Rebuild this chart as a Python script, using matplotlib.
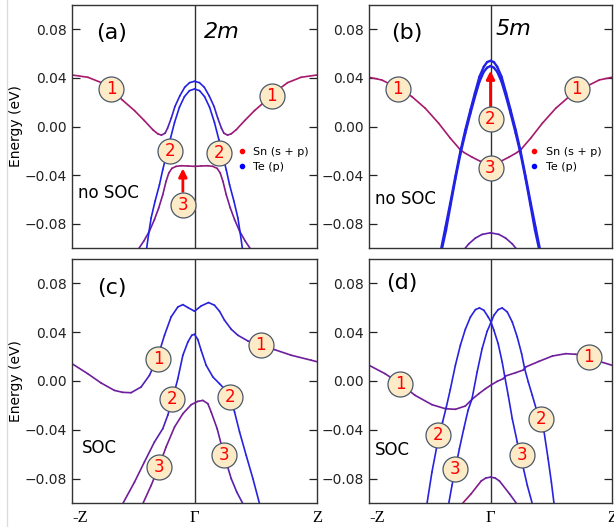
import numpy as np
import matplotlib
matplotlib.use('Agg')
import matplotlib.pyplot as plt
from matplotlib.collections import LineCollection
from matplotlib.colors import LinearSegmentedColormap
from matplotlib.lines import Line2D

# ---- panel (a): 2m, no SOC ----
a1_k = [-1.00, -0.87, -0.76, -0.68, -0.59, -0.49, -0.41, -0.34, -0.30, -0.27, -0.24, -0.22, -0.19, -0.16, -0.12, -0.08, -0.04, 0.00,
        0.04, 0.08, 0.12, 0.16, 0.19, 0.22, 0.24, 0.27, 0.30, 0.34, 0.41, 0.49, 0.59, 0.68, 0.76, 0.87, 1.00]
a1_e = [0.0424, 0.0405, 0.0361, 0.0301, 0.0219, 0.0131, 0.0049, -0.0027, -0.0060, -0.0071, -0.0055, -0.0014, 0.0068, 0.0164, 0.0252, 0.0323, 0.0361, 0.0372,
        0.0361, 0.0323, 0.0252, 0.0164, 0.0068, -0.0014, -0.0055, -0.0071, -0.0060, -0.0027, 0.0049, 0.0131, 0.0219, 0.0301, 0.0361, 0.0405, 0.0424]
a1_w = [1, 1, 1, 1, 1, 1, 0.95, 0.9, 0.85, 0.75, 0.55, 0.35, 0.2, 0.1, 0.05, 0, 0, 0,
        0, 0, 0.05, 0.1, 0.2, 0.35, 0.55, 0.75, 0.85, 0.9, 0.95, 1, 1, 1, 1, 1, 1]
a2_k = [-0.390, -0.373, -0.354, -0.322, -0.286, -0.259, -0.232, -0.199, -0.163, -0.123, -0.082, -0.041, 0.0,
        0.041, 0.082, 0.123, 0.163, 0.199, 0.232, 0.259, 0.286, 0.322, 0.354, 0.373, 0.390]
a2_e = [-0.0998, -0.0875, -0.0752, -0.0615, -0.0479, -0.0355, -0.0246, -0.0109, 0.0033, 0.0159, 0.0246, 0.0295, 0.0309,
        0.0295, 0.0246, 0.0159, 0.0033, -0.0109, -0.0246, -0.0355, -0.0479, -0.0615, -0.0752, -0.0875, -0.0998]
a3_k = [-0.463, -0.414, -0.368, -0.327, -0.292, -0.259, -0.232, -0.210, -0.185, -0.150, -0.109, -0.054, 0.0,
        0.054, 0.109, 0.150, 0.185, 0.210, 0.232, 0.259, 0.292, 0.327, 0.368, 0.414, 0.463]
a3_e = [-0.1017, -0.0943, -0.0861, -0.0766, -0.0670, -0.0561, -0.0451, -0.0383, -0.0345, -0.0328, -0.0323, -0.0325, -0.0328,
        -0.0325, -0.0323, -0.0328, -0.0345, -0.0383, -0.0451, -0.0561, -0.0670, -0.0766, -0.0861, -0.0943, -0.1017]
a3_w = [0.5, 0.5, 0.5, 0.55, 0.6, 0.65, 0.7, 0.75, 0.8, 0.85, 0.85, 0.85, 0.85,
        0.85, 0.85, 0.85, 0.8, 0.75, 0.7, 0.65, 0.6, 0.55, 0.5, 0.5, 0.5]
a_lab_k = [-0.681, 0.632, -0.199, 0.204, -0.095]
a_lab_e = [0.0306, 0.0252, -0.0200, -0.0219, -0.0643]
a_lab_n = ['1', '1', '2', '2', '3']

# ---- panel (b): 5m, no SOC ----
b1_k = [-1.00, -0.895, -0.758, -0.647, -0.537, -0.427, -0.331, -0.256, -0.220, -0.152, -0.083, 0.0,
        0.083, 0.152, 0.220, 0.256, 0.331, 0.427, 0.537, 0.647, 0.758, 0.895, 1.00]
b1_e = [0.0405, 0.0383, 0.0314, 0.0246, 0.0150, 0.0027, -0.0096, -0.0183, -0.0213, -0.0252, -0.0287, -0.0309,
        -0.0287, -0.0252, -0.0213, -0.0183, -0.0096, 0.0027, 0.0150, 0.0246, 0.0314, 0.0383, 0.0405]
b1_w = [1, 1, 1, 1, 1, 1, 1, 0.95, 0.9, 0.9, 0.9, 0.9,
        0.9, 0.9, 0.9, 0.95, 1, 1, 1, 1, 1, 1, 1]
b2_k = [-0.405, -0.372, -0.331, -0.289, -0.248, -0.207, -0.165, -0.129, -0.091, -0.055, -0.028, 0.0,
        0.028, 0.055, 0.091, 0.129, 0.165, 0.207, 0.248, 0.289, 0.331, 0.372, 0.405]
b2_e = [-0.1000, -0.0835, -0.0629, -0.0410, -0.0205, -0.0027, 0.0137, 0.0273, 0.0410, 0.0492, 0.0530, 0.0541,
        0.0530, 0.0492, 0.0410, 0.0273, 0.0137, -0.0027, -0.0205, -0.0410, -0.0629, -0.0835, -0.1000]
b3_k = [-0.398, -0.366, -0.328, -0.289, -0.248, -0.207, -0.165, -0.129, -0.091, -0.055, -0.028, 0.0,
        0.028, 0.055, 0.091, 0.129, 0.165, 0.207, 0.248, 0.289, 0.328, 0.366, 0.398]
b3_e = [-0.1000, -0.0853, -0.0643, -0.0432, -0.0227, -0.0055, 0.0109, 0.0241, 0.0369, 0.0451, 0.0484, 0.0498,
        0.0484, 0.0451, 0.0369, 0.0241, 0.0109, -0.0055, -0.0227, -0.0432, -0.0643, -0.0853, -0.1000]
b4_k = [-0.212, -0.179, -0.124, -0.069, 0.0, 0.069, 0.124, 0.179, 0.212]
b4_e = [-0.1006, -0.0966, -0.0918, -0.0888, -0.0875, -0.0888, -0.0918, -0.0966, -0.1006]
b_lab_k = [-0.763, 0.708, 0.0, 0.0]
b_lab_e = [0.0306, 0.0306, 0.0060, -0.0342]
b_lab_n = ['1', '1', '2', '3']

# ---- panel (c): 2m, SOC ----
c1_k = [-1.0, -0.872, -0.763, -0.654, -0.586, -0.518, -0.436, -0.368, -0.300, -0.245, -0.191, -0.136, -0.095, -0.054, 0.0,
        0.054, 0.114, 0.163, 0.204, 0.245, 0.300, 0.354, 0.436, 0.540, 0.654, 0.790, 0.954, 1.0]
c1_e = [0.0142, 0.0060, -0.0016, -0.0077, -0.0093, -0.0096, -0.0049, 0.0046, 0.0197, 0.0375, 0.0525, 0.0607, 0.0626, 0.0602, 0.0572,
        0.0615, 0.0643, 0.0621, 0.0572, 0.0498, 0.0424, 0.0375, 0.0328, 0.0293, 0.0257, 0.0211, 0.0170, 0.0158]
c1_w = [0.55, 0.55, 0.55, 0.55, 0.55, 0.5, 0.4, 0.25, 0.15, 0.1, 0.05, 0.05, 0.05, 0.05, 0.05,
        0.05, 0.05, 0.05, 0.05, 0.1, 0.15, 0.25, 0.4, 0.45, 0.5, 0.55, 0.55, 0.55]
c2_k = [-0.586, -0.490, -0.409, -0.327, -0.259, -0.218, -0.177, -0.136, -0.095, -0.054, -0.022, 0.0,
        0.027, 0.054, 0.095, 0.150, 0.204, 0.250, 0.289, 0.327, 0.368, 0.422, 0.477, 0.531]
c2_e = [-0.1006, -0.0829, -0.0664, -0.0500, -0.0391, -0.0280, -0.0140, 0.0019, 0.0211, 0.0320, 0.0375, 0.0383,
        0.0340, 0.0252, 0.0129, 0.0033, -0.0022, -0.0070, -0.0131, -0.0254, -0.0418, -0.0610, -0.0801, -0.1006]
c2_w = [0.55, 0.55, 0.5, 0.45, 0.35, 0.2, 0.1, 0.05, 0.05, 0.05, 0.05, 0.05,
        0.05, 0.05, 0.05, 0.05, 0.05, 0.05, 0.05, 0.05, 0.05, 0.05, 0.05, 0.05]
c3_k = [-0.422, -0.354, -0.292, -0.232, -0.163, -0.095, -0.027, 0.027, 0.068, 0.109, 0.136, 0.185, 0.240, 0.300, 0.345, 0.395]
c3_e = [-0.1006, -0.0856, -0.0705, -0.0541, -0.0377, -0.0268, -0.0194, -0.0167, -0.0159, -0.0186, -0.0254, -0.0391, -0.0604, -0.0801, -0.0910, -0.1006]
c3_w = [0.6, 0.6, 0.6, 0.6, 0.6, 0.6, 0.6, 0.6, 0.6, 0.55, 0.55, 0.5, 0.45, 0.4, 0.35, 0.35]
c_lab_k = [-0.294, 0.540, -0.185, 0.289, -0.286, 0.240]
c_lab_e = [0.0183, 0.0293, -0.0145, -0.0131, -0.0705, -0.0604]
c_lab_n = ['1', '1', '2', '2', '3', '3']

# ---- panel (d): 5m, SOC ----
d1_k = [-1.0, -0.868, -0.744, -0.620, -0.482, -0.372, -0.289, -0.207, -0.152, -0.096, -0.041, 0.0,
        0.055, 0.105, 0.124, 0.207, 0.270, 0.290, 0.399, 0.510, 0.620, 0.702, 0.807, 0.895, 1.0]
d1_e = [0.0129, 0.0060, -0.0022, -0.0118, -0.0194, -0.0227, -0.0232, -0.0205, -0.0150, -0.0104, -0.0063, -0.0036,
        -0.0003, 0.0019, 0.0041, 0.0068, 0.0090, 0.0115, 0.0161, 0.0205, 0.0224, 0.0219, 0.0197, 0.0161, 0.0129]
dP_k = [-0.523, -0.482, -0.427, -0.394, -0.364, -0.331, -0.289, -0.248, -0.207, -0.165, -0.124, -0.091, -0.055, -0.019, 0.0,
        0.028, 0.063, 0.096, 0.118, 0.146, 0.179, 0.220, 0.262, 0.303, 0.344]
dP_e = [-0.1006, -0.0747, -0.0459, -0.0335, -0.0215, -0.0070, 0.0129, 0.0293, 0.0424, 0.0525, 0.0585, 0.0599, 0.0580, 0.0525, 0.0492,
        0.0416, 0.0306, 0.0156, 0.0033, -0.0118, -0.0309, -0.0500, -0.0678, -0.0856, -0.1006]
dQ_k = [-0.344, -0.317, -0.289, -0.256, -0.220, -0.185, -0.152, -0.110, -0.069, -0.028, 0.0,
        0.028, 0.063, 0.096, 0.138, 0.179, 0.220, 0.256, 0.281, 0.311, 0.344, 0.380, 0.413, 0.441, 0.474, 0.501, 0.523]
dQ_e = [-0.1006, -0.0856, -0.0719, -0.0555, -0.0391, -0.0241, -0.0145, 0.0074, 0.0265, 0.0407, 0.0470,
        0.0539, 0.0585, 0.0599, 0.0566, 0.0484, 0.0361, 0.0224, 0.0101, -0.0008, -0.0118, -0.0241, -0.0309, -0.0418, -0.0637, -0.0829, -0.1006]
d4_k = [-0.228, -0.159, -0.077, -0.038, 0.0, 0.038, 0.074, 0.156, 0.212]
d4_e = [-0.1001, -0.0924, -0.0820, -0.0795, -0.0788, -0.0795, -0.0820, -0.0924, -0.1001]
d4_w = [0.9, 0.8, 0.6, 0.5, 0.5, 0.5, 0.5, 0.5, 0.5]
d_lab_k = [-0.744, 0.807, -0.433, 0.413, -0.289, 0.256]
d_lab_e = [-0.0022, 0.0197, -0.0446, -0.0309, -0.0719, -0.0604]
d_lab_n = ['1', '1', '2', '2', '3', '3']

yticks = [-0.08, -0.04, 0.0, 0.04, 0.08]
ytick_labels = ['\u22120.08', '\u22120.04', '0.00', '0.04', '0.08']
xticks = [-1, 0, 1]
xtick_labels = ['-Z', '\u0393', 'Z']

# blue (Te p) -> purple -> magenta (Sn s+p)
cmap = LinearSegmentedColormap.from_list('snte', ['#2222e6', '#6a1fa0', '#a8196c'])


def band(ax, k, e, w, lw=1.2):
	pts = np.column_stack([k, e])
	segs = np.stack([pts[:-1], pts[1:]], axis=1)
	w = np.broadcast_to(np.asarray(w, float), (len(k),))
	cols = cmap((w[:-1] + w[1:]) / 2)
	lc = LineCollection(segs, colors=cols, linewidths=lw, capstyle='round', joinstyle='round', zorder=2)
	ax.add_collection(lc)


def labels(ax, ks, es, ns):
	ax.plot(ks, es, 'o', ms=18, mfc='#fdeac6', mec='#4a5868', mew=0.9, zorder=4, clip_on=False)
	for k, e, n in zip(ks, es, ns):
		ax.text(k, e, n, color='red', fontsize=12, ha='center', va='center', zorder=5)


def arrow(ax, k, e0, e1):
	ax.annotate('', xy=(k, e1), xytext=(k, e0),
		arrowprops=dict(arrowstyle='-|>', color='red', lw=2, mutation_scale=12, shrinkA=0, shrinkB=0), zorder=3)


def setup(ax, bottom):
	ax.set_xlim(-1, 1)
	ax.set_ylim(-0.1, 0.1)
	ax.axvline(0, color='#333333', lw=1, zorder=1)
	ax.set_yticks(yticks)
	ax.set_yticklabels(ytick_labels)
	ax.tick_params(axis='y', direction='in', length=6, width=0.9, left=True, right=True, labelsize=10, colors='#222222')
	ax.set_xticks(xticks)
	if bottom:
		ax.set_xticklabels(xtick_labels, family='Liberation Serif', fontsize=12)
		ax.get_xticklabels()[0].set_horizontalalignment('left')
	else:
		ax.set_xticklabels([])
	ax.tick_params(axis='x', length=0, pad=5)
	for s in ax.spines.values():
		s.set_color('#333333')
		s.set_linewidth(1)


def legend(ax, x, y):
	h = [Line2D([], [], marker='o', ls='', color='red', ms=3),
		Line2D([], [], marker='o', ls='', color='blue', ms=3)]
	ax.legend(h, ['Sn (s + p)', 'Te (p)'], loc='center left', bbox_to_anchor=(x, y), frameon=False,
		fontsize=8, handlelength=0.6, handletextpad=0.7, labelspacing=0.4, borderpad=0, borderaxespad=0)


fig = plt.figure(figsize=(6.14, 5.27), dpi=100)
W, H = 614.0, 527.0
axa = fig.add_axes([72 / W, 1 - 248 / H, 245 / W, 243 / H])
axb = fig.add_axes([369 / W, 1 - 248 / H, 243 / W, 243 / H])
axc = fig.add_axes([72 / W, 1 - 503 / H, 245 / W, 244 / H])
axd = fig.add_axes([369 / W, 1 - 503 / H, 243 / W, 244 / H])

# (a)
setup(axa, False)
band(axa, a3_k, a3_e, a3_w)
band(axa, a2_k, a2_e, 0.0)
band(axa, a1_k, a1_e, a1_w)
labels(axa, a_lab_k, a_lab_e, a_lab_n)
arrow(axa, -0.095, -0.0535, -0.0345)
axa.text(0.163, 0.885, '(a)', transform=axa.transAxes, fontsize=16, ha='center', va='center')
axa.text(0.613, 0.889, '2m', transform=axa.transAxes, fontsize=16, style='italic', ha='center', va='center')
axa.text(0.148, 0.226, 'no SOC', transform=axa.transAxes, fontsize=12, ha='center', va='center')
legend(axa, 0.679, 0.364)
axa.set_ylabel('Energy (eV)', fontsize=10, labelpad=1)

# (b)
setup(axb, False)
band(axb, b4_k, b4_e, 0.45)
band(axb, b1_k, b1_e, b1_w)
band(axb, b2_k, b2_e, 0.0, lw=1.7)
band(axb, b3_k, b3_e, 0.0, lw=1.7)
labels(axb, b_lab_k, b_lab_e, b_lab_n)
arrow(axb, 0.0, 0.0159, 0.0459)
axb.text(0.156, 0.885, '(b)', transform=axb.transAxes, fontsize=16, ha='center', va='center')
axb.text(0.593, 0.9, '5m', transform=axb.transAxes, fontsize=16, style='italic', ha='center', va='center')
axb.text(0.148, 0.2, 'no SOC', transform=axb.transAxes, fontsize=12, ha='center', va='center')
legend(axb, 0.667, 0.365)

# (c)
setup(axc, True)
band(axc, c3_k, c3_e, c3_w)
band(axc, c2_k, c2_e, c2_w)
band(axc, c1_k, c1_e, c1_w)
labels(axc, c_lab_k, c_lab_e, c_lab_n)
axc.text(0.163, 0.881, '(c)', transform=axc.transAxes, fontsize=16, ha='center', va='center')
axc.text(0.11, 0.225, 'SOC', transform=axc.transAxes, fontsize=12, ha='center', va='center')
axc.set_ylabel('Energy (eV)', fontsize=10, labelpad=1)

# (d)
setup(axd, True)
band(axd, d4_k, d4_e, d4_w)
band(axd, d1_k, d1_e, 0.55)
band(axd, dP_k, dP_e, 0.05)
band(axd, dQ_k, dQ_e, 0.05)
labels(axd, d_lab_k, d_lab_e, d_lab_n)
axd.text(0.136, 0.9, '(d)', transform=axd.transAxes, fontsize=16, ha='center', va='center')
axd.text(0.095, 0.217, 'SOC', transform=axd.transAxes, fontsize=12, ha='center', va='center')

fig.add_artist(Line2D([7 / W, 7 / W], [0, 1], color='#dcdcdc', lw=1))

fig.savefig('out.png', dpi=100)
